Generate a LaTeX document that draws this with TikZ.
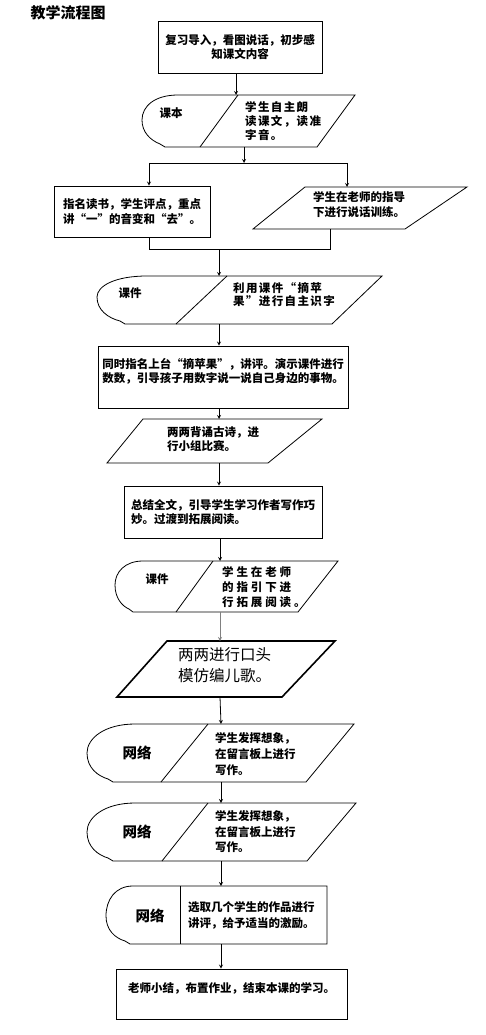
\documentclass[tikz,border=0pt]{standalone}
\usepackage{fontspec}
\setmainfont{Noto Sans CJK SC}
\tikzset{
  box/.style={draw, line width=0.8pt, inner sep=3pt, align=left,
    font=\fontsize{11.5}{14.5}\selectfont\bfseries},
  txt/.style={inner sep=0pt, anchor=west, align=left,
    font=\fontsize{11.5}{14.5}\selectfont\bfseries},
  tag/.style={inner sep=0pt, font=\fontsize{11.5}{14}\selectfont\bfseries},
  bigtag/.style={inner sep=0pt, font=\fontsize{14.5}{16}\selectfont\bfseries},
  outline/.style={draw, line width=0.8pt},
  flow/.style={->, line width=0.8pt}
}
\begin{document}
\begin{tikzpicture}[x=1pt, y=-1pt, >=stealth]
  \useasboundingbox (0,0) rectangle (486,1035);
  \node[tag, font=\fontsize{15}{16}\selectfont\bfseries] (title) at (68,13) {教学流程图};

  % introduction
  \node[box, minimum width=164pt, minimum height=52pt, align=center] (b1) at (240,47)
    {复习导入，看图说话，初步感\\知课文内容};

  % textbook + reading
  \draw[outline] (178,95) .. controls (155,95) and (142,106) .. (142,120)
    .. controls (142,132) and (150,140) .. (160,144) -- (165,147)
    -- (317,147) -- (355,95) -- cycle;
  \draw[outline] (238,95) -- (200,147);
  \coordinate (s2n) at (236,95);
  \coordinate (s2s) at (244,147);
  \node[tag] (s2a) at (171,113) {课本};
  \node[txt, font=\fontsize{11.5}{14}\selectfont\bfseries\addfontfeature{LetterSpace=12}] (s2b) at (245,121)
    {学生自主朗\\读课文，读准\\字音。};

  % two branches
  \coordinate (fork) at (244,163);
  \coordinate (fl) at (149,163);
  \coordinate (fr) at (347,163);
  \node[box, minimum width=156pt, minimum height=51pt, font=\fontsize{11.5}{15}\selectfont\bfseries] (b3) at (132,211.5)
    {指名读书，学生评点，重点\\讲“一”的音变和“去”。};
  \draw[outline] (305,187) -- (467,187) -- (405,229) -- (253,229) -- cycle;
  \coordinate (p3n) at (347,187);
  \coordinate (p3s) at (330,229);
  \node[txt, font=\fontsize{11.5}{15}\selectfont\bfseries] (p3t) at (313,204.5)
    {学生在老师的指导\\下进行说话训练。};
  \coordinate (ml) at (149,249);
  \coordinate (mr) at (330,249);
  \coordinate (mj) at (219,249);

  % courseware + literacy
  \draw[outline] (147,276) .. controls (115,276) and (97,286) .. (97,297)
    .. controls (97,310) and (108,318) .. (120,321) -- (125,324)
    -- (332,324) -- (382,276) -- cycle;
  \draw[outline] (227,276) -- (176,324);
  \coordinate (s4n) at (219,276);
  \coordinate (s4s) at (219,324);
  \node[tag] (s4a) at (130,293) {课件};
  \node[txt, font=\fontsize{11.5}{13.5}\selectfont\bfseries\addfontfeature{LetterSpace=12}] (s4b) at (233,294.5)
    {利用课件“摘苹\\果”进行自主识字};

  \node[box, minimum width=250pt, minimum height=62pt, text depth=13pt,
    font=\fontsize{11.5}{13.5}\selectfont\bfseries] (b5) at (223,377)
    {同时指名上台“摘苹果”，讲评。演示课件进行\\数数，引导孩子用数字说一说自己身边的事物。};

  % poems
  \draw[outline] (143,419) -- (322,419) -- (268,463) -- (107,463) -- cycle;
  \coordinate (p6n) at (219,419);
  \coordinate (p6s) at (219,463);
  \node[txt, font=\fontsize{11.5}{14}\selectfont\bfseries] (p6t) at (167,439)
    {两两背诵古诗，进\\行小组比赛。};

  \node[box, minimum width=198pt, minimum height=52pt] (b7) at (223,512)
    {总结全文，引导学生学习作者写作巧\\妙。过渡到拓展阅读。};

  % courseware + extended reading
  \draw[outline] (143,561) .. controls (125,561) and (115,572) .. (115,585)
    .. controls (115,598) and (122,606) .. (129,609) -- (133,612)
    -- (298,612) -- (338,561) -- cycle;
  \draw[outline] (213,561) -- (176,612);
  \coordinate (s8n) at (220,561);
  \coordinate (s8s) at (220,612);
  \node[tag] (s8a) at (157,579) {课件};
  \node[txt, font=\fontsize{11.5}{15}\selectfont\bfseries\addfontfeature{LetterSpace=25}] (s8b) at (222,587)
    {学生在老师\\的指引下进\\行拓展阅读。};

  % rhymes
  \draw[outline, line width=1.6pt] (167,641) -- (335,641) -- (282,697) -- (117,697) -- cycle;
  \coordinate (p9n) at (220,641);
  \coordinate (p9s) at (220,697);
  \node[txt, font=\fontsize{15.5}{21}\selectfont] (p9t) at (178,665.5)
    {两两进行口头\\模仿编儿歌。};

  % network, twice
  \draw[outline] (135,724) .. controls (105,724) and (87,738) .. (87,753)
    .. controls (87,768) and (98,776) .. (108,779) -- (113,782)
    -- (306,782) -- (354,724) -- cycle;
  \draw[outline] (208,724) -- (161,782);
  \coordinate (s10n) at (221,724);
  \coordinate (s10s) at (221,782);
  \node[bigtag] (s10a) at (137,753) {网络};
  \node[txt, font=\fontsize{11.5}{16}\selectfont\bfseries] (s10b) at (215,754)
    {学生发挥想象，\\在留言板上进行\\写作。};

  \draw[outline] (135,803) .. controls (105,803) and (87,817) .. (87,832)
    .. controls (87,847) and (98,855) .. (108,858) -- (113,861)
    -- (307,861) -- (356,803) -- cycle;
  \draw[outline] (208,803) -- (162,861);
  \coordinate (s11n) at (221,803);
  \coordinate (s11s) at (221,861);
  \node[bigtag] (s11a) at (137,832) {网络};
  \node[txt, font=\fontsize{11.5}{15.5}\selectfont\bfseries] (s11b) at (215,832)
    {学生发挥想象，\\在留言板上进行\\写作。};

  % network + review
  \draw[outline] (133,886) .. controls (115,886) and (106,900) .. (106,916)
    .. controls (106,930) and (115,938) .. (125,941) -- (130,944)
    -- (327,944) -- (327,886) -- cycle;
  \draw[outline] (180,886) -- (180,944);
  \coordinate (s12n) at (221,886);
  \coordinate (s12s) at (221,944);
  \node[bigtag] (s12a) at (150,916) {网络};
  \node[txt, font=\fontsize{11.5}{16}\selectfont\bfseries] (s12b) at (188,915)
    {选取几个学生的作品进行\\讲评，给予适当的激励。};

  \node[box, minimum width=231pt, minimum height=50pt, text depth=12pt] (b13) at (231.5,994)
    {老师小结，布置作业，结束本课的学习。};

  % connectors
  \draw[flow] (s2n |- b1.south) -- (s2n);
  \draw[flow] (s2s) -- (fork);
  \draw[outline] (fl) -- (fr);
  \draw[flow] (fl) -- (fl |- b3.north);
  \draw[flow] (fr) -- (p3n);
  \draw[outline] (fl |- b3.south) -- (ml) -- (mr) -- (p3s);
  \draw[flow] (mj) -- (s4n);
  \draw[flow] (s4s) -- (s4s |- b5.north);
  \draw[flow] (p6n |- b5.south) -- (p6n);
  \draw[flow] (p6s) -- (p6s |- b7.north);
  \draw[flow] (s8n |- b7.south) -- (s8n);
  \draw[flow, gray] (s8s) -- (p9n);
  \draw[flow] (p9s) -- (s10n);
  \draw[flow] (s10s) -- (s11n);
  \draw[flow] (s11s) -- (s12n);
  \draw[flow] (s12s) -- (s12s |- b13.north);
\end{tikzpicture}
\end{document}
